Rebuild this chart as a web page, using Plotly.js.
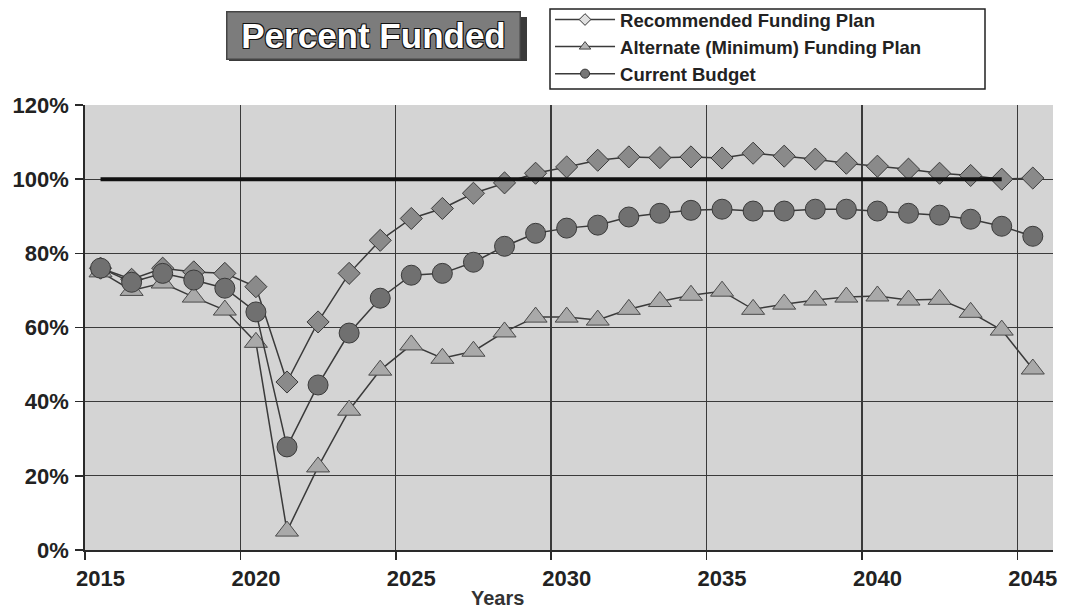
<!DOCTYPE html>
<html>
<head>
<meta charset="utf-8">
<script src="https://cdn.plot.ly/plotly-3.0.1.min.js"></script>
<style>
  html, body { margin: 0; padding: 0; background: #ffffff; }
  #chart { width: 1065px; height: 610px; }
</style>
</head>
<body>
<div id="chart"></div>
<script>
// ---- data ----
const years = [2015, 2016, 2017, 2018, 2019, 2020, 2021, 2022, 2023, 2024,
               2025, 2026, 2027, 2028, 2029, 2030, 2031, 2032, 2033, 2034,
               2035, 2036, 2037, 2038, 2039, 2040, 2041, 2042, 2043, 2044, 2045];

const recommendedPlan = [76, 73, 76, 75, 74.6, 71, 45.3, 61.5, 74.6, 83.5,
                         89.4, 92.1, 96.2, 99, 101.6, 103.3, 105.1, 106, 105.8, 106,
                         105.7, 107, 106.2, 105.4, 104.3, 103.5, 102.7, 101.6, 101, 100, 100.3];

const alternatePlan = [75, 70, 72, 68.2, 64.7, 56, 5.1, 22.4, 37.7, 48.5,
                       55.3, 51.7, 53.6, 58.8, 62.8, 62.8, 62, 64.9, 67, 68.7,
                       69.8, 64.9, 66.3, 67.4, 68.2, 68.5, 67.4, 67.6, 64.1, 59.3, 48.8];

const currentBudget = [76, 72.2, 74.6, 72.8, 70.6, 64.2, 27.8, 44.5, 58.5, 67.9,
                       74.1, 74.6, 77.6, 81.9, 85.4, 86.8, 87.6, 89.8, 90.8, 91.6,
                       91.9, 91.4, 91.4, 91.9, 91.9, 91.4, 90.8, 90.3, 89.2, 87.3, 84.6];

const targetYears = [2015, 2044];
const targetLevel = [100, 100];

const seriesNames = ["Recommended Funding Plan", "Alternate (Minimum) Funding Plan", "Current Budget"];
const xLabelVals = [2015, 2020, 2025, 2030, 2035, 2040, 2045];
const xLabelText = ["2015", "2020", "2025", "2030", "2035", "2040", "2045"];
const xGridVals = [2014.5, 2019.5, 2024.5, 2029.5, 2034.5, 2039.5, 2044.5];
const yTickVals = [0, 20, 40, 60, 80, 100, 120];
const yTickText = ["0%", "20%", "40%", "60%", "80%", "100%", "120%"];

const FONT = "Liberation Sans, Arial, sans-serif";
const lineCol = "#3a3a3a";

const traces = [
  {
    x: years, y: alternatePlan, name: seriesNames[1], type: "scatter", mode: "lines+markers",
    line: { color: lineCol, width: 1.5 }, showlegend: false,
    marker: { symbol: "triangle-up", size: 20, color: "#a9a9a9", line: { color: "#4a4a4a", width: 1 } }
  },
  {
    x: years, y: recommendedPlan, name: seriesNames[0], type: "scatter", mode: "lines+markers",
    line: { color: lineCol, width: 1.5 }, showlegend: false,
    marker: { symbol: "diamond", size: 17, color: "#8a8a8a", line: { color: "#3a3a3a", width: 1 } }
  },
  {
    x: years, y: currentBudget, name: seriesNames[2], type: "scatter", mode: "lines+markers",
    line: { color: lineCol, width: 1.5 }, showlegend: false,
    marker: { symbol: "circle", size: 20, color: "#707070", line: { color: "#3a3a3a", width: 1 } }
  },
  {
    x: targetYears, y: targetLevel, type: "scatter", mode: "lines",
    line: { color: "#111111", width: 4 }, showlegend: false, hoverinfo: "skip"
  },
  // legend entries (small symbols, as in the reference legend)
  { x: [null], y: [null], name: seriesNames[0], type: "scatter", mode: "lines+markers", legendrank: 1,
    line: { color: lineCol, width: 1.5 },
    marker: { symbol: "diamond", size: 9, color: "#e0e0e0", line: { color: "#333", width: 1 } } },
  { x: [null], y: [null], name: seriesNames[1], type: "scatter", mode: "lines+markers", legendrank: 2,
    line: { color: lineCol, width: 1.5 },
    marker: { symbol: "triangle-up", size: 10, color: "#b5b5b5", line: { color: "#444", width: 1 } } },
  { x: [null], y: [null], name: seriesNames[2], type: "scatter", mode: "lines+markers", legendrank: 3,
    line: { color: lineCol, width: 1.5 },
    marker: { symbol: "circle", size: 9, color: "#777777", line: { color: "#333", width: 1 } } }
];

const layout = {
  width: 1065, height: 610,
  margin: { l: 85, r: 12, t: 105, b: 60, autoexpand: false },
  paper_bgcolor: "#ffffff",
  plot_bgcolor: "#d4d4d4",
  font: { family: FONT, color: "#222222" },
  showlegend: true,
  legend: {
    x: 0.4804, y: (550 - 1) / 445, xanchor: "left", yanchor: "top",
    bgcolor: "rgba(0,0,0,0)", borderwidth: 0,
    font: { family: FONT, size: 18.5, weight: "bold", color: "#222222" },
    itemwidth: 60, tracegroupgap: 0
  },
  xaxis: {
    range: [2014.5, 2045.65],
    tickmode: "array", tickvals: xLabelVals, ticktext: xLabelText,
    showgrid: false, zeroline: false,
    showline: true, linecolor: "#2a2a2a", linewidth: 1.8,
    ticks: "", ticklabelstandoff: 8,
    tickfont: { family: FONT, size: 22, weight: "bold", color: "#222222" },
    minor: {
      tickmode: "array", tickvals: xGridVals,
      showgrid: true, gridcolor: "#3a3a3a", gridwidth: 1.3,
      ticks: "outside", ticklen: 8, tickcolor: "#2a2a2a", tickwidth: 1.5
    }
  },
  yaxis: {
    range: [0, 120],
    tickmode: "array", tickvals: yTickVals, ticktext: yTickText,
    showgrid: true, gridcolor: "#3a3a3a", gridwidth: 1.3,
    zeroline: false, showline: true, linecolor: "#2a2a2a", linewidth: 1.8,
    ticks: "outside", ticklen: 8, tickcolor: "#2a2a2a", tickwidth: 1.5,
    ticklabelstandoff: 2,
    tickfont: { family: FONT, size: 22, weight: "bold", color: "#222222" }
  },
  shapes: [
    // title box shadow
    { type: "rect", xref: "paper", yref: "paper",
      x0: (229 - 85) / 968, x1: (527 - 85) / 968,
      y0: (550 - 61) / 445, y1: (550 - 17) / 445,
      fillcolor: "#3a3a3a", line: { width: 0 }, layer: "above" },
    // legend frame
    { type: "rect", xref: "paper", yref: "paper",
      x0: (550 - 85) / 968, x1: (985 - 85) / 968,
      y0: (550 - 89) / 445, y1: (550 - 9) / 445,
      fillcolor: "#ffffff", line: { color: "#222222", width: 1.5 }, layer: "above" }
  ],
  annotations: [
    { text: "Percent Funded", xref: "paper", yref: "paper",
      x: (373 - 85) / 968, y: (550 - 35) / 445, xanchor: "center", yanchor: "middle",
      showarrow: false, bgcolor: "#7c7c7c", bordercolor: "#444444", borderwidth: 1.5,
      borderpad: 3, width: 286, height: 40,
      font: { family: FONT, size: 35, weight: "bold", color: "#ffffff",
              shadow: "-1px -1px 0 #111, 1px -1px 0 #111, -1px 1px 0 #111, 1px 1px 0 #111" } },
    { text: "Years", xref: "paper", yref: "paper",
      x: (497 - 85) / 968, y: (550 - 598) / 445, xanchor: "center", yanchor: "middle",
      showarrow: false,
      font: { family: FONT, size: 20, weight: "bold", color: "#333333" } }
  ]
};

Plotly.newPlot("chart", traces, layout, { displayModeBar: false, staticPlot: true });
</script>
</body>
</html>
